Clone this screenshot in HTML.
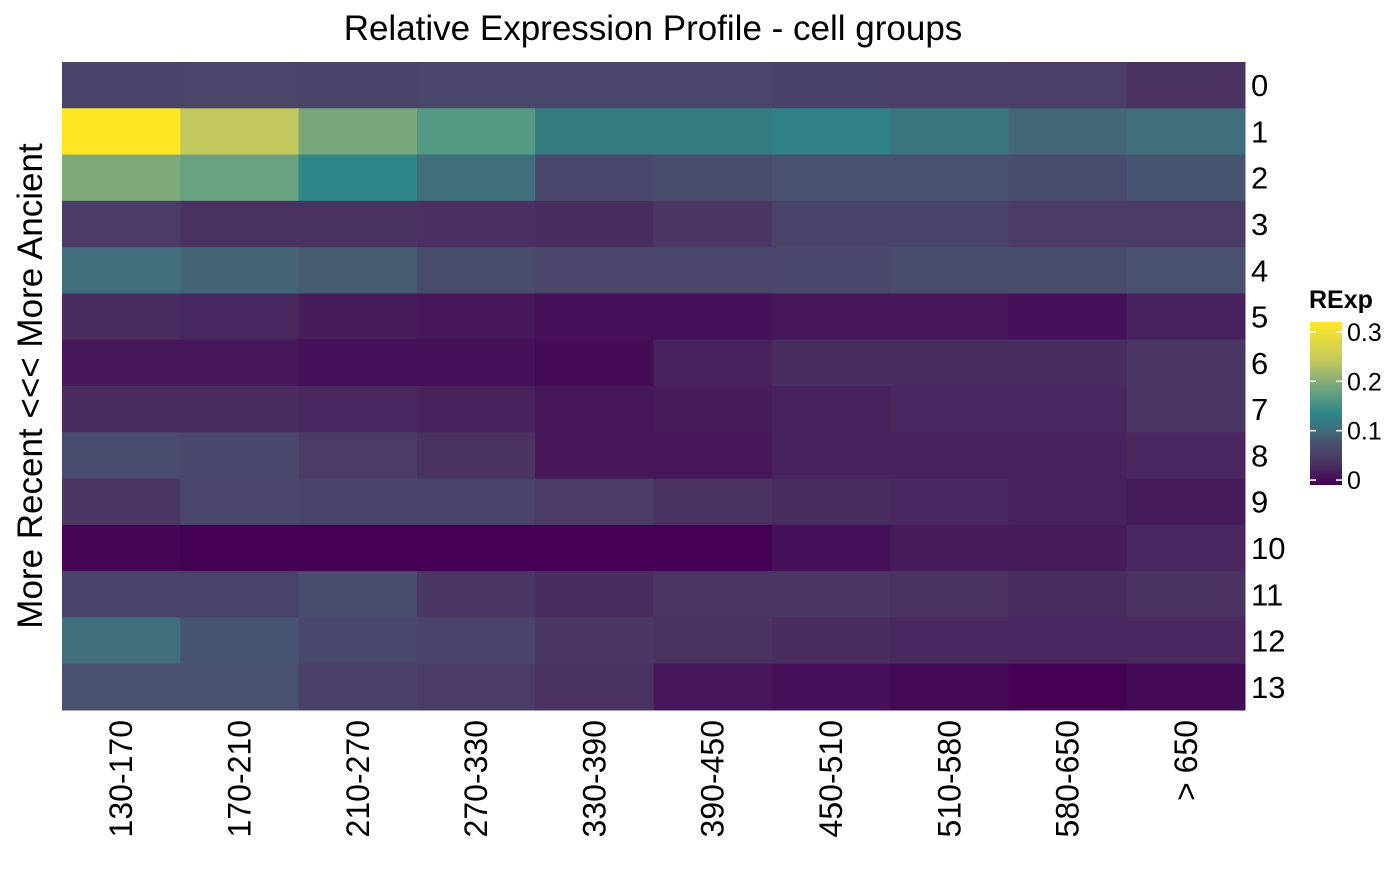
<!DOCTYPE html>
<html><head><meta charset="utf-8"><style>
body{margin:0;background:#fff;}
svg text{font-family:"Liberation Sans",sans-serif;fill:#000;}
</style></head><body>
<svg id="c" width="1400" height="866">
<text x="653" y="40" font-size="35" text-anchor="middle">Relative Expression Profile - cell groups</text>
<text transform="translate(42,386) rotate(-90)" font-size="35" text-anchor="middle">More Recent &lt;&lt;&lt; More Ancient</text>
<g id="cells"></g><g id="ylab"></g><g id="xlab"></g>
<defs><linearGradient id="lg" x1="0" y1="1" x2="0" y2="0"></linearGradient></defs>
<text x="1309" y="308" font-size="25" font-weight="bold">RExp</text>
<rect x="1310" y="322" width="32" height="163" fill="url(#lg)"/>
<g id="leg"></g>
</svg>
<script>
const cols=["130-170","170-210","210-270","270-330","330-390","390-450","450-510","510-580","580-650","> 650"];
const rows=["0","1","2","3","4","5","6","7","8","9","10","11","12","13"];
const r0=[0.055,0.058,0.055,0.06,0.058,0.058,0.052,0.05,0.048,0.035];
const r1=[0.32,0.24,0.19,0.165,0.12,0.12,0.13,0.11,0.095,0.1];
const r2=[0.195,0.18,0.135,0.1,0.065,0.07,0.075,0.075,0.07,0.08];
const r3=[0.045,0.035,0.035,0.032,0.03,0.04,0.055,0.055,0.045,0.045];
const r4=[0.1,0.092,0.085,0.07,0.06,0.06,0.065,0.07,0.07,0.075];
const r5=[0.03,0.025,0.015,0.01,0.005,0.005,0.01,0.01,0.005,0.02];
const r6=[0.01,0.01,0.005,0.005,0.0,0.02,0.03,0.03,0.03,0.04];
const r7=[0.03,0.03,0.025,0.02,0.01,0.015,0.02,0.025,0.025,0.04];
const r8=[0.07,0.065,0.045,0.035,0.01,0.01,0.02,0.02,0.02,0.025];
const r9=[0.04,0.06,0.055,0.055,0.045,0.035,0.03,0.025,0.02,0.015];
const r10=[-0.005,-0.01,-0.01,-0.01,-0.01,-0.01,0.005,0.015,0.015,0.025];
const r11=[0.055,0.055,0.07,0.04,0.03,0.04,0.04,0.035,0.03,0.035];
const r12=[0.1,0.08,0.065,0.055,0.04,0.035,0.03,0.025,0.025,0.025];
const r13=[0.075,0.075,0.05,0.045,0.035,0.01,0.005,-0.002,-0.01,0.0];
const values=[r0,r1,r2,r3,r4,r5,r6,r7,r8,r9,r10,r11,r12,r13];
const legendTicks=[0,0.1,0.2,0.3];
const stopV=[-0.01,0.015,0.035,0.055,0.07,0.085,0.1,0.12,0.135,0.17,0.2,0.24,0.32];
const stopC=["#440154","#471c5a","#4a3363","#4a4469","#4a4c6c","#465a72","#416e7c","#357b82","#2e8688","#5a9c82","#85ac78","#c2c85e","#fde725"];
const NS="http://www.w3.org/2000/svg";
const X0=62,X1=1245,Y0=62,Y1=710;
const cw=(X1-X0)/cols.length, rh=(Y1-Y0)/rows.length;
const xs=i=>X0+i*cw, ys=j=>Y0+j*rh;
const vmin=-0.01,vmax=0.32;
const ly=v=>485-(v-vmin)/(vmax-vmin)*163;
function hex(h){return [1,3,5].map(i=>parseInt(h.substr(i,2),16));}
function color(v){
 if(v<=stopV[0])return stopC[0];
 for(let k=1;k<stopV.length;k++){if(v<=stopV[k]){const t=(v-stopV[k-1])/(stopV[k]-stopV[k-1]);const a=hex(stopC[k-1]),b=hex(stopC[k]);return "rgb("+a.map((x,i)=>Math.round(x+(b[i]-x)*t)).join(",")+")";}}
 return stopC[stopC.length-1];
}
function mk(t,a,p){const e=document.createElementNS(NS,t);for(const k in a)e.setAttribute(k,a[k]);p.appendChild(e);return e;}
const cells=document.getElementById('cells');
values.forEach((row,j)=>row.forEach((v,i)=>{
 const r=mk('rect',{x:xs(i),y:ys(j),width:cw+0.5,height:rh+0.5,fill:color(v)},cells);
 
 
}));
const yl=document.getElementById('ylab');
rows.forEach((r,j)=>{const t=mk('text',{x:1251,y:ys(j)+rh/2+11,'font-size':31},yl);t.textContent=r;
 
 });
const xl=document.getElementById('xlab');
cols.forEach((c,i)=>{const cx=xs(i)+cw/2+11;const t=mk('text',{transform:`translate(${cx},720) rotate(-90)`,'font-size':32,'text-anchor':'end'},xl);t.textContent=c;
 
 });
const lg=document.getElementById('lg');
stopV.forEach((v,k)=>mk('stop',{offset:(v-vmin)/(vmax-vmin),'stop-color':stopC[k]},lg));
const leg=document.getElementById('leg');
legendTicks.forEach(v=>{const y=ly(v);
 mk('line',{x1:1310,x2:1316,y1:y,y2:y,stroke:'#fff','stroke-width':1.5},leg);
 mk('line',{x1:1336,x2:1342,y1:y,y2:y,stroke:'#fff','stroke-width':1.5},leg);
 const t=mk('text',{x:1347,y:y+9,'font-size':25},leg);t.textContent=String(v);
 
 });
</script>
</body></html>
